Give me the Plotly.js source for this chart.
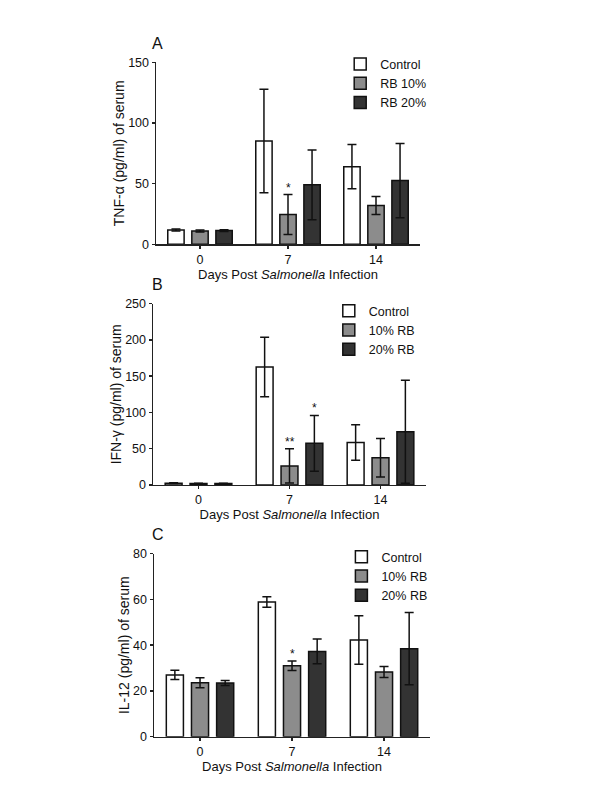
<!DOCTYPE html>
<html>
<head>
<meta charset="utf-8">
<script src="https://cdn.plot.ly/plotly-3.0.1.min.js"></script>
<style>html,body{margin:0;padding:0;background:#fff;}#chart{width:600px;height:800px;}</style>
</head>
<body>
<div id="chart"></div>
<script>
// ---- data ----
var days = ['0', '7', '14'];

// Panel A: TNF-alpha
var seriesA = ['Control', 'RB 10%', 'RB 20%'];
var ctrlA = [11.8, 85.2, 64.0];
var ctrlAerr = [0.8, 42.7, 18.3];
var rb10A = [11.0, 24.5, 32.0];
var rb10Aerr = [0.8, 16.5, 7.5];
var rb20A = [11.3, 49.0, 52.5];
var rb20Aerr = [0.8, 28.7, 30.6];
var starsA = [['', '', ''], ['', '*', ''], ['', '', '']];

// Panel B: IFN-gamma
var seriesB = ['Control', '10% RB', '20% RB'];
var ctrlB = [2.5, 162.7, 58.6];
var ctrlBerr = [0.4, 40.9, 24.6];
var rb10B = [2.0, 26.2, 37.6];
var rb10Berr = [0.4, 23.6, 26.6];
var rb20B = [2.0, 57.4, 73.5];
var rb20Berr = [0.4, 38.5, 71.0];
var starsB = [['', '', ''], ['', '**', ''], ['', '*', '']];

// Panel C: IL-12
var seriesC = ['Control', '10% RB', '20% RB'];
var ctrlC = [27.0, 58.9, 42.3];
var ctrlCerr = [2.0, 2.3, 10.6];
var rb10C = [23.6, 31.0, 28.3];
var rb10Cerr = [2.2, 2.1, 2.4];
var rb20C = [23.5, 37.3, 38.5];
var rb20Cerr = [1.1, 5.4, 15.8];
var starsC = [['', '', ''], ['', '*', ''], ['', '', '']];

var fills = ['#ffffff', '#8c8c8c', '#333333'];
var FONT = 'Liberation Sans, Arial, Helvetica, sans-serif';
var BARGAP = 0.18;

function bar(name, y, err, color, xa, ya, leg) {
  return {
    type: 'bar', name: name, x: days, y: y,
    xaxis: xa, yaxis: ya, legend: leg,
    marker: {color: color, line: {color: '#111', width: 1.5}},
    error_y: {type: 'data', array: err, visible: true, color: '#111', thickness: 1.5, width: 4.5},
    hoverinfo: 'x+y+name'
  };
}

var panels = [
  {names: seriesA, vals: [ctrlA, rb10A, rb20A], errs: [ctrlAerr, rb10Aerr, rb20Aerr], stars: starsA, xa: 'x', ya: 'y', leg: 'legend'},
  {names: seriesB, vals: [ctrlB, rb10B, rb20B], errs: [ctrlBerr, rb10Berr, rb20Berr], stars: starsB, xa: 'x2', ya: 'y2', leg: 'legend2'},
  {names: seriesC, vals: [ctrlC, rb10C, rb20C], errs: [ctrlCerr, rb10Cerr, rb20Cerr], stars: starsC, xa: 'x3', ya: 'y3', leg: 'legend3'}
];

var data = [];
var annotations = [];
var slot = (1 - BARGAP) / 3;
panels.forEach(function (p) {
  for (var s = 0; s < 3; s++) {
    data.push(bar(p.names[s], p.vals[s], p.errs[s], fills[s], p.xa, p.ya, p.leg));
    for (var i = 0; i < days.length; i++) {
      if (p.stars[s][i]) {
        annotations.push({
          xref: p.xa, yref: p.ya, x: i + (s - 1) * slot, y: p.vals[s][i] + p.errs[s][i],
          text: p.stars[s][i], showarrow: false, xanchor: 'center', yanchor: 'bottom',
          yshift: -2, font: {size: 12, color: '#111', family: FONT}
        });
      }
    }
  }
});

// panel letters
[['A', 0.922 + 0.023], ['B', 0.620 + 0.024], ['C', 0.308 + 0.024]].forEach(function (l) {
  annotations.push({xref: 'paper', yref: 'paper', x: 0.263, y: l[1], text: l[0], showarrow: false,
    xanchor: 'center', yanchor: 'middle', font: {size: 16, color: '#111', family: FONT}});
});

function xax(dom, anchor) {
  return {
    domain: dom, anchor: anchor, type: 'category', range: [-0.5, 2.5],
    showline: true, linecolor: '#222', linewidth: 1.5, mirror: false,
    ticks: 'outside', ticklen: 3, tickwidth: 1.5, tickcolor: '#222',
    tickfont: {size: 12.5, color: '#111', family: FONT},
    showgrid: false, zeroline: false,
    title: {text: 'Days Post <i>Salmonella</i> Infection', font: {size: 13, color: '#111', family: FONT}, standoff: 0}
  };
}
function yax(dom, anchor, range, dtick, title) {
  return {
    domain: dom, anchor: anchor, range: range, dtick: dtick, tick0: 0,
    showline: true, linecolor: '#222', linewidth: 1.5,
    ticks: 'outside', ticklen: 3, tickwidth: 1.5, tickcolor: '#222',
    tickfont: {size: 12.5, color: '#111', family: FONT},
    showgrid: false, zeroline: false,
    title: {text: title, font: {size: 14, color: '#111', family: FONT}, standoff: 0}
  };
}
function leg(x, y) {
  return {x: x, y: y, xanchor: 'left', yanchor: 'middle', bgcolor: 'rgba(0,0,0,0)', borderwidth: 0,
    font: {size: 12.5, color: '#111', family: FONT}, tracegroupgap: 0};
}

var layout = {
  width: 600, height: 800,
  margin: {l: 0, r: 0, t: 0, b: 0},
  paper_bgcolor: '#fff', plot_bgcolor: '#fff',
  font: {family: FONT, color: '#111'},
  barmode: 'group', bargap: BARGAP, bargroupgap: 0.32,
  showlegend: true,
  xaxis: xax([0.26, 0.70], 'y'),
  yaxis: yax([0.6946, 0.9221], 'x', [0, 150], 50, 'TNF-α (pg/ml) of serum'),
  xaxis2: xax([0.255, 0.71], 'y2'),
  yaxis2: yax([0.3938, 0.6204], 'x2', [0, 250], 50, 'IFN-γ (pg/ml) of serum'),
  xaxis3: xax([0.2567, 0.7167], 'y3'),
  yaxis3: yax([0.0791, 0.3079], 'x3', [0, 80], 20, 'IL-12 (pg/ml) of serum'),
  legend: leg(0.567, 0.8959),
  legend2: leg(0.548, 0.5875),
  legend3: leg(0.569, 0.28),
  annotations: annotations
};

Plotly.newPlot('chart', data, layout, {displayModeBar: false, staticPlot: true});
</script>
</body>
</html>
